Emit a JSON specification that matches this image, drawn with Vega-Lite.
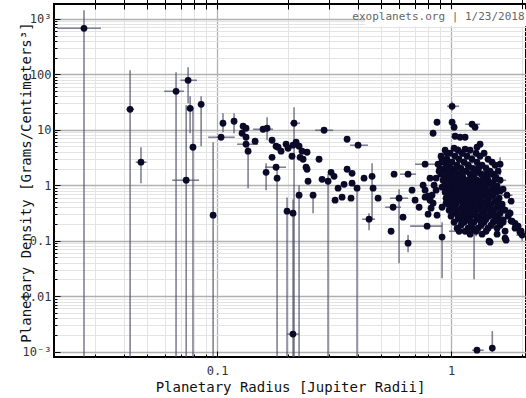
{
"$schema": "https://vega.github.io/schema/vega-lite/v6.json",
"width": 472, "height": 353,
"autosize": {"type": "none"},
"padding": {"left": 54, "top": 4, "right": 0, "bottom": 41},
"background": "white",
"config": {"font": "DejaVu Sans Mono", "view": {"stroke": "black", "strokeWidth": 2}, "axis": {"domain": false, "labelFont": "DejaVu Sans Mono", "titleFont": "DejaVu Sans Mono", "tickColor": "#000"}},
"data": {"values": [
{"r":0.027,"d":674,"rlo":0.0207,"rhi":0.0319,"dlo":0.0001,"dhi":1422},
{"r":0.0425,"d":23.4,"rlo":0.041,"rhi":0.0442,"dlo":0.0001,"dhi":118},
{"r":0.0473,"d":2.6,"rlo":0.0449,"rhi":0.05,"dlo":1.09,"dhi":4.84},
{"r":0.0668,"d":49.4,"rlo":0.0594,"rhi":0.0722,"dlo":0.0001,"dhi":109},
{"r":0.0752,"d":78,"rlo":0.0697,"rhi":0.0821,"dlo":30,"dhi":134},
{"r":0.0767,"d":24.4,"dlo":8.65,"dhi":40},
{"r":0.0855,"d":28.8,"dlo":5.04,"dhi":40},
{"r":0.0789,"d":4.84,"dlo":0.0001,"dhi":25.4},
{"r":0.0738,"d":1.23,"rlo":0.0643,"rhi":0.0838,"dlo":0.0001,"dhi":27.6},
{"r":0.106,"d":13.1,"dlo":9.0,"dhi":19.8},
{"r":0.104,"d":7.33,"rlo":0.0916,"rhi":0.119},
{"r":0.0962,"d":0.288,"dlo":0.0001,"dhi":5.95},
{"r":0.211,"d":0.00207,"rlo":0.199,"rhi":0.224},
{"r":1.29,"d":0.00106,"rlo":1.23,"rhi":1.38},
{"r":1.5,"d":0.00116,"dlo":0.00098,"dhi":0.00234},
{"r":0.1182,"d":14.23,"dlo":8.65,"dhi":19.83},
{"r":0.1292,"d":11.56},
{"r":0.133,"d":10.64},
{"r":0.1279,"d":8.65},
{"r":0.133,"d":7.33},
{"r":0.133,"d":5.48,"rlo":0.1218,"rhi":0.1497},
{"r":0.1357,"d":4.1,"dlo":0.883,"dhi":5.0},
{"r":0.1454,"d":6.21},
{"r":0.1572,"d":10.21,"rlo":0.1425,"rhi":0.1735},
{"r":0.1636,"d":10.64,"dlo":6.47,"dhi":16.8},
{"r":0.1718,"d":6.47},
{"r":0.1718,"d":3.19},
{"r":0.162,"d":1.71,"dlo":0.813,"dhi":2.49},
{"r":0.1787,"d":2.11,"rlo":0.1604,"rhi":0.1972},
{"r":0.1805,"d":1.34,"dlo":0.0001,"dhi":2.0},
{"r":0.1787,"d":5.04},
{"r":0.1823,"d":4.84},
{"r":0.1877,"d":4.1},
{"r":0.1972,"d":5.48},
{"r":0.2011,"d":4.64},
{"r":0.1991,"d":0.34,"dlo":0.0001,"dhi":0.6},
{"r":0.2133,"d":13.1,"rlo":0.2051,"rhi":0.2263,"dlo":0.0001,"dhi":25.4},
{"r":0.2091,"d":3.33},
{"r":0.2112,"d":5.26},
{"r":0.2176,"d":5.95},
{"r":0.2112,"d":0.313,"dlo":0.0001,"dhi":0.55},
{"r":0.2241,"d":5.04},
{"r":0.2308,"d":4.1},
{"r":0.2424,"d":3.93},
{"r":0.2263,"d":3.19},
{"r":0.2331,"d":2.94},
{"r":0.2401,"d":2.11},
{"r":0.2424,"d":1.94},
{"r":0.2448,"d":1.18},
{"r":0.2241,"d":0.66,"dlo":0.0001,"dhi":1.0},
{"r":0.2572,"d":0.66,"dlo":0.313,"dhi":0.72},
{"r":0.2728,"d":2.94},
{"r":0.2866,"d":9.79,"rlo":0.2623,"rhi":0.3131},
{"r":0.281,"d":1.28},
{"r":0.2981,"d":1.18,"dlo":0.0001,"dhi":1.6},
{"r":0.307,"d":1.71},
{"r":0.3162,"d":1.45},
{"r":0.329,"d":0.883},
{"r":0.3194,"d":0.537},
{"r":0.3421,"d":0.608},
{"r":0.3489,"d":1.04},
{"r":0.3594,"d":1.94},
{"r":0.3775,"d":1.64},
{"r":0.3775,"d":1.09},
{"r":0.3737,"d":0.583},
{"r":0.3965,"d":0.883,"dlo":0.0001,"dhi":1.0},
{"r":0.3594,"d":6.74},
{"r":0.4004,"d":5.26,"rlo":0.3701,"rhi":0.4417},
{"r":0.4247,"d":1.34},
{"r":0.4461,"d":0.244,"rlo":0.4166,"rhi":0.4733,"dlo":0.155,"dhi":0.313},
{"r":0.4596,"d":1.45,"dlo":0.234,"dhi":2.49},
{"r":0.4642,"d":0.883},
{"r":0.4876,"d":0.583},
{"r":0.5708,"d":1.58},
{"r":0.6549,"d":1.58,"rlo":0.6053,"rhi":0.7087},
{"r":0.5994,"d":0.583,"rlo":0.5486,"rhi":0.6549,"dlo":0.0393,"dhi":0.847},
{"r":0.5651,"d":0.401,"rlo":0.5223,"rhi":0.6112},
{"r":0.6233,"d":0.265},
{"r":0.5541,"d":0.148},
{"r":0.6549,"d":0.0901,"dlo":0.062,"dhi":0.126},
{"r":0.7745,"d":2.39,"rlo":0.7017,"rhi":0.8799},
{"r":0.7594,"d":1.0},
{"r":0.73,"d":0.401},
{"r":0.7898,"d":0.183,"rlo":0.6682,"rhi":0.9152},
{"r":0.7745,"d":0.608},
{"r":0.7976,"d":0.633},
{"r":0.8133,"d":0.537},
{"r":0.8212,"d":0.385},
{"r":0.8461,"d":1.0},
{"r":0.8887,"d":1.79},
{"r":0.9152,"d":0.92},
{"r":0.9152,"d":0.401},
{"r":0.8799,"d":2.39},
{"r":0.9152,"d":2.94},
{"r":0.961,"d":3.77},
{"r":0.9152,"d":0.116,"dlo":0.0211,"dhi":0.215},
{"r":0.871,"d":13.65},
{"r":0.8377,"d":8.65},
{"r":0.681,"d":0.813},
{"r":0.7017,"d":0.537},
{"r":0.863,"d":1.34},
{"r":0.829,"d":0.66},
{"r":0.871,"d":0.288},
{"r":0.813,"d":1.34},
{"r":0.863,"d":0.813},
{"r":0.7745,"d":0.813},
{"r":0.8377,"d":0.474},
{"r":0.7976,"d":0.3},
{"r":1.01,"d":26.5,"rlo":0.961,"rhi":1.082,"dlo":22,"dhi":32},
{"r":1.01,"d":13.65},
{"r":1.03,"d":11.09},
{"r":1.229,"d":12.57,"rlo":1.148,"rhi":1.33},
{"r":1.266,"d":11.09},
{"r":1.04,"d":7.64},
{"r":1.093,"d":7.33},
{"r":1.148,"d":7.33},
{"r":1.33,"d":5.48},
{"r":1.291,"d":4.84},
{"r":1.03,"d":4.64},
{"r":1.148,"d":4.45},
{"r":1.62,"d":2.39,"dlo":1.51,"dhi":3.19},
{"r":1.468,"d":1.58},
{"r":1.453,"d":0.0981},
{"r":1.573,"d":0.131},
{"r":1.701,"d":0.111},
{"r":1.701,"d":0.148},
{"r":1.787,"d":0.313,"dlo":0.26,"dhi":0.38},
{"r":1.877,"d":0.206},
{"r":1.934,"d":0.183},
{"r":2.011,"d":0.126,"rlo":1.9,"rhi":2.1,"dlo":0.1,"dhi":0.16},
{"r":1.823,"d":0.225},
{"r":1.652,"d":0.401},
{"r":1.668,"d":0.234},
{"r":1.992,"d":0.148},
{"r":1.468,"d":0.094},
{"r":1.877,"d":0.168},
{"r":1.97,"d":0.142},
{"r":1.718,"d":0.102},
{"r":1.082,"d":0.148,"rlo":0.98,"rhi":1.17},
{"r":1.254,"d":0.161,"rlo":1.15,"rhi":1.35,"dlo":0.0202,"dhi":0.25},
{"r":0.943,"d":4.27},{"r":1.071,"d":4.27,"rlo":1.01,"rhi":1.14,"dlo":3.6,"dhi":5.1},{"r":1.206,"d":4.27},
{"r":0.99,"d":3.77},{"r":1.114,"d":3.77},{"r":1.279,"d":3.77,"dlo":3.2,"dhi":4.5},{"r":1.384,"d":3.77},
{"r":0.906,"d":3.33},{"r":1.04,"d":3.33},{"r":1.171,"d":3.33,"rlo":1.1,"rhi":1.25},{"r":1.33,"d":3.33},
{"r":0.961,"d":2.94},{"r":1.082,"d":2.94},{"r":1.229,"d":2.94,"dlo":2.4,"dhi":3.6},{"r":1.439,"d":2.94},
{"r":0.924,"d":2.6},{"r":1.01,"d":2.6},{"r":1.137,"d":2.6,"rlo":1.06,"rhi":1.22,"dlo":2.2,"dhi":3.1},{"r":1.291,"d":2.6},{"r":1.497,"d":2.6},
{"r":0.971,"d":2.29},{"r":1.061,"d":2.29},{"r":1.182,"d":2.29},{"r":1.357,"d":2.29,"rlo":1.27,"rhi":1.45},{"r":1.542,"d":2.29},
{"r":0.897,"d":2.02},{"r":1.0,"d":2.02},{"r":1.103,"d":2.02,"dlo":1.7,"dhi":2.4},{"r":1.242,"d":2.02},{"r":1.411,"d":2.02},
{"r":0.943,"d":1.79},{"r":1.04,"d":1.79},{"r":1.159,"d":1.79},{"r":1.304,"d":1.79,"rlo":1.22,"rhi":1.4,"dlo":1.5,"dhi":2.1},{"r":1.468,"d":1.79},{"r":1.588,"d":1.79},
{"r":0.906,"d":1.58},{"r":0.99,"d":1.58},{"r":1.082,"d":1.58,"rlo":0.98,"rhi":1.19},{"r":1.206,"d":1.58},{"r":1.344,"d":1.58},{"r":1.512,"d":1.58},
{"r":0.952,"d":1.39},{"r":1.03,"d":1.39},{"r":1.125,"d":1.39},{"r":1.254,"d":1.39},{"r":1.397,"d":1.39,"dlo":1.15,"dhi":1.7},{"r":1.557,"d":1.39},
{"r":0.924,"d":1.23},{"r":1.0,"d":1.23},{"r":1.093,"d":1.23},{"r":1.182,"d":1.23,"rlo":1.1,"rhi":1.27,"dlo":1.0,"dhi":1.5},{"r":1.291,"d":1.23},{"r":1.439,"d":1.23},{"r":1.62,"d":1.23,"rlo":1.52,"rhi":1.72},
{"r":0.961,"d":1.09},{"r":1.05,"d":1.09,"dlo":0.9,"dhi":1.3},{"r":1.148,"d":1.09},{"r":1.229,"d":1.09},{"r":1.357,"d":1.09},{"r":1.482,"d":1.09},
{"r":0.933,"d":0.959},{"r":1.01,"d":0.959},{"r":1.103,"d":0.959},{"r":1.194,"d":0.959},{"r":1.304,"d":0.959},{"r":1.411,"d":0.959,"rlo":1.32,"rhi":1.51,"dlo":0.8,"dhi":1.15},{"r":1.573,"d":0.959},
{"r":0.981,"d":0.847},{"r":1.061,"d":0.847},{"r":1.159,"d":0.847},{"r":1.254,"d":0.847,"dlo":0.7,"dhi":1.0},{"r":1.37,"d":0.847},{"r":1.497,"d":0.847},{"r":1.668,"d":0.847},
{"r":0.943,"d":0.748},{"r":1.02,"d":0.748,"rlo":0.94,"rhi":1.1},{"r":1.114,"d":0.748},{"r":1.218,"d":0.748},{"r":1.317,"d":0.748},{"r":1.439,"d":0.748,"dlo":0.62,"dhi":0.9},{"r":1.557,"d":0.748},
{"r":0.99,"d":0.66},{"r":1.071,"d":0.66},{"r":1.171,"d":0.66},{"r":1.266,"d":0.66,"rlo":1.18,"rhi":1.36,"dlo":0.55,"dhi":0.8},{"r":1.384,"d":0.66},{"r":1.512,"d":0.66},{"r":1.735,"d":0.66,"rlo":1.64,"rhi":1.83},
{"r":0.952,"d":0.583},{"r":1.04,"d":0.583},{"r":1.125,"d":0.583,"dlo":0.48,"dhi":0.7},{"r":1.229,"d":0.583},{"r":1.33,"d":0.583},{"r":1.453,"d":0.583,"rlo":1.36,"rhi":1.55},{"r":1.604,"d":0.583},
{"r":1.0,"d":0.515},{"r":1.093,"d":0.515},{"r":1.182,"d":0.515,"rlo":1.1,"rhi":1.27,"dlo":0.42,"dhi":0.62},{"r":1.291,"d":0.515},{"r":1.411,"d":0.515},{"r":1.542,"d":0.515,"dlo":0.43,"dhi":0.62},{"r":1.805,"d":0.515},
{"r":0.971,"d":0.455},{"r":1.05,"d":0.455},{"r":1.148,"d":0.455},{"r":1.242,"d":0.455},{"r":1.357,"d":0.455,"rlo":1.27,"rhi":1.45},{"r":1.482,"d":0.455},{"r":1.652,"d":0.455},
{"r":1.02,"d":0.401},{"r":1.114,"d":0.401,"dlo":0.33,"dhi":0.49},{"r":1.206,"d":0.401},{"r":1.317,"d":0.401},{"r":1.439,"d":0.401,"rlo":1.35,"rhi":1.54,"dlo":0.33,"dhi":0.48},{"r":1.573,"d":0.401},
{"r":0.981,"d":0.354},{"r":1.071,"d":0.354},{"r":1.171,"d":0.354},{"r":1.279,"d":0.354,"dlo":0.29,"dhi":0.43},{"r":1.397,"d":0.354},{"r":1.527,"d":0.354},{"r":1.701,"d":0.354,"rlo":1.6,"rhi":1.8},
{"r":1.04,"d":0.313},{"r":1.137,"d":0.313,"rlo":1.06,"rhi":1.22,"dlo":0.26,"dhi":0.38},{"r":1.242,"d":0.313},{"r":1.357,"d":0.313},{"r":1.482,"d":0.313,"dlo":0.26,"dhi":0.38},{"r":1.62,"d":0.313},
{"r":1.0,"d":0.276},{"r":1.103,"d":0.276},{"r":1.206,"d":0.276,"dlo":0.22,"dhi":0.34},{"r":1.33,"d":0.276},{"r":1.453,"d":0.276},{"r":1.588,"d":0.276,"rlo":1.5,"rhi":1.68},{"r":1.752,"d":0.276},
{"r":1.071,"d":0.244},{"r":1.171,"d":0.244},{"r":1.291,"d":0.244,"rlo":1.2,"rhi":1.38},{"r":1.411,"d":0.244},{"r":1.542,"d":0.244},
{"r":1.03,"d":0.215},{"r":1.137,"d":0.215},{"r":1.254,"d":0.215},{"r":1.384,"d":0.215,"dlo":0.18,"dhi":0.26},{"r":1.512,"d":0.215},{"r":1.668,"d":0.215},
{"r":1.103,"d":0.19},{"r":1.218,"d":0.19,"dlo":0.15,"dhi":0.24},{"r":1.344,"d":0.19},{"r":1.482,"d":0.19},{"r":1.62,"d":0.19},
{"r":1.061,"d":0.168},{"r":1.182,"d":0.168},{"r":1.304,"d":0.168},{"r":1.439,"d":0.168,"rlo":1.35,"rhi":1.53},{"r":1.573,"d":0.168},
{"r":1.148,"d":0.148},{"r":1.279,"d":0.148,"dlo":0.12,"dhi":0.18},{"r":1.411,"d":0.148},
{"r":1.206,"d":0.131},{"r":1.357,"d":0.131},
{"r":0.952,"d":2.11},{"r":1.061,"d":2.11},{"r":1.194,"d":2.11},{"r":1.317,"d":2.11},
{"r":0.971,"d":1.64},{"r":1.114,"d":1.64},{"r":1.266,"d":1.64,"rlo":1.19,"rhi":1.35},{"r":1.425,"d":1.64},
{"r":0.961,"d":1.28},{"r":1.071,"d":1.28},{"r":1.218,"d":1.28},{"r":1.37,"d":1.28},{"r":1.542,"d":1.28},
{"r":0.981,"d":1.0},{"r":1.093,"d":1.0,"dlo":0.85,"dhi":1.2},{"r":1.242,"d":1.0},{"r":1.384,"d":1.0},{"r":1.527,"d":1.0},
{"r":0.971,"d":0.78},{"r":1.071,"d":0.78},{"r":1.171,"d":0.78},{"r":1.279,"d":0.78},{"r":1.397,"d":0.78},{"r":1.62,"d":0.78},
{"r":1.02,"d":0.608},{"r":1.125,"d":0.608},{"r":1.218,"d":0.608},{"r":1.317,"d":0.608,"rlo":1.22,"rhi":1.42},{"r":1.439,"d":0.608},
{"r":0.952,"d":0.474},{"r":1.04,"d":0.474},{"r":1.137,"d":0.474},{"r":1.266,"d":0.474},{"r":1.384,"d":0.474},{"r":1.588,"d":0.474},
{"r":1.02,"d":0.37},{"r":1.125,"d":0.37},{"r":1.229,"d":0.37},{"r":1.33,"d":0.37},{"r":1.468,"d":0.37},{"r":1.652,"d":0.37},
{"r":1.071,"d":0.288},{"r":1.159,"d":0.288},{"r":1.266,"d":0.288},{"r":1.397,"d":0.288},{"r":1.527,"d":0.288},
{"r":1.114,"d":0.225},{"r":1.206,"d":0.225},{"r":1.344,"d":0.225},{"r":1.573,"d":0.225},{"r":1.805,"d":0.225}
]},
"layer": [
{"data": {"values": [{"t": "exoplanets.org | 1/23/2018"}]},
 "mark": {"type": "rect", "fill": "white"},
 "encoding": {
  "x": {"datum": 0.43, "type": "quantitative", "scale": {"type": "log", "domain": [0.0201, 2.09], "nice": false}, "axis": null},
  "x2": {"datum": 2.09},
  "y": {"datum": 733, "type": "quantitative", "scale": {"type": "log", "domain": [0.0008, 1850], "nice": false}, "axis": null},
  "y2": {"datum": 1483}}},
{"transform": [{"filter": "isValid(datum.rlo)"}],
 "mark": {"type": "rule", "stroke": "#4d4d66", "strokeWidth": 1.6, "opacity": 0.7, "clip": true},
 "encoding": {
  "x": {"field": "rlo", "type": "quantitative", "scale": {"type": "log", "domain": [0.0201, 2.09], "nice": false},
   "axis": {"orient": "bottom", "values": [0.02,0.03,0.04,0.05,0.06,0.07,0.08,0.09,0.2,0.3,0.4,0.5,0.6,0.7,0.8,0.9,2], "labels": false, "title": null, "grid": true, "gridColor": "#e4e4e4", "gridWidth": 1, "tickSize": -3}},
  "x2": {"field": "rhi"},
  "y": {"field": "d", "type": "quantitative", "scale": {"type": "log", "domain": [0.0008, 1850], "nice": false},
   "axis": {"orient": "left", "values": [0.002,0.003,0.004,0.005,0.006,0.007,0.008,0.009,0.02,0.03,0.04,0.05,0.06,0.07,0.08,0.09,0.2,0.3,0.4,0.5,0.6,0.7,0.8,0.9,2,3,4,5,6,7,8,9,20,30,40,50,60,70,80,90,200,300,400,500,600,700,800,900], "labels": false, "title": null, "grid": true, "gridColor": "#e4e4e4", "gridWidth": 1, "tickSize": -3}}}},
{"transform": [{"filter": "isValid(datum.dlo)"}],
 "mark": {"type": "rule", "stroke": "#4d4d66", "strokeWidth": 1.6, "opacity": 0.7, "clip": true},
 "encoding": {
  "x": {"field": "r", "type": "quantitative", "scale": {"type": "log", "domain": [0.0201, 2.09], "nice": false},
   "axis": {"orient": "bottom", "values": [0.1, 1], "grid": true, "gridColor": "#b0b0b0", "gridWidth": 1.3, "tickSize": -6, "labelFontSize": 12, "labelColor": "#333", "labelPadding": 14, "labelExpr": "datum.value == 1 ? '1' : '0.1'", "title": "Planetary Radius [Jupiter Radii]", "titleFontSize": 14, "titleFontWeight": "normal", "titleColor": "#111", "titlePadding": 4}},
  "y": {"field": "dlo", "type": "quantitative", "scale": {"type": "log", "domain": [0.0008, 1850], "nice": false},
   "axis": {"orient": "left", "values": [0.001, 0.01, 0.1, 1, 10, 100, 1000], "grid": true, "gridColor": "#b0b0b0", "gridWidth": 1.3, "tickSize": -6, "labelFontSize": 12, "labelColor": "#333", "labelPadding": 9, "labelExpr": "datum.value >= 1000 ? '10³' : datum.value <= 0.001 ? '10⁻³' : datum.value >= 1 ? format(datum.value, 'd') : format(datum.value, '~g')", "title": "Planetary Density [Grams/Centimeters³]", "titleFontSize": 14, "titleFontWeight": "normal", "titleColor": "#111", "titleX": -21, "titleY": 178, "titleBaseline": "bottom"}},
  "y2": {"field": "dhi"}}},
{"mark": {"type": "point", "filled": true, "shape": "circle", "size": 46, "color": "#0a0a28", "opacity": 1},
 "encoding": {
  "x": {"field": "r", "type": "quantitative", "scale": {"type": "log", "domain": [0.0201, 2.09], "nice": false},
   "axis": {"orient": "top", "values": [0.02,0.03,0.04,0.05,0.06,0.07,0.08,0.09,0.1,0.2,0.3,0.4,0.5,0.6,0.7,0.8,0.9,1,2], "labels": false, "labelExpr": "''", "labelOpacity": 0, "title": null, "grid": false, "tickSize": -5}},
  "y": {"field": "d", "type": "quantitative", "scale": {"type": "log", "domain": [0.0008, 1850], "nice": false}, "axis": null}}},
{"data": {"values": [{"t": "exoplanets.org | 1/23/2018"}]},
 "mark": {"type": "text", "align": "right", "baseline": "middle", "fontSize": 11, "color": "#666", "font": "DejaVu Sans Mono"},
 "encoding": {
  "x": {"datum": 2.06, "type": "quantitative", "scale": {"type": "log", "domain": [0.0201, 2.09], "nice": false}},
  "y": {"datum": 1064, "type": "quantitative", "scale": {"type": "log", "domain": [0.0008, 1850], "nice": false}},
  "text": {"field": "t"}}}
],
"resolve": {"axis": {"x": "independent", "y": "independent"}}
}
